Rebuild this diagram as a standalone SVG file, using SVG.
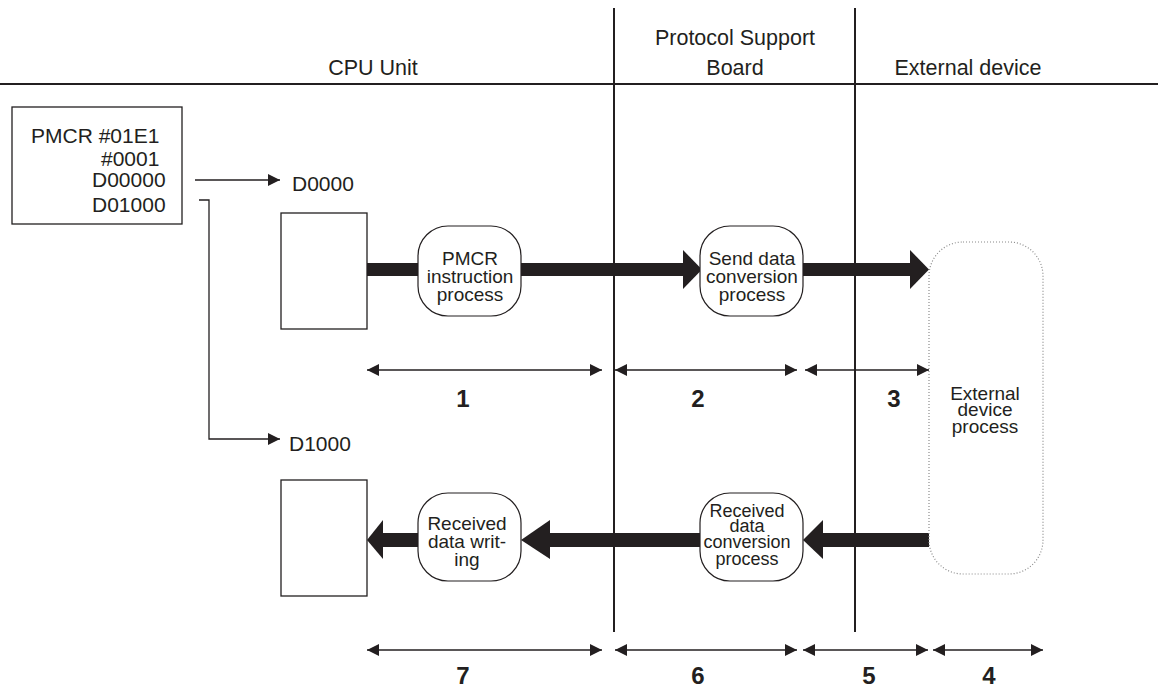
<svg xmlns="http://www.w3.org/2000/svg" width="1158" height="688" viewBox="0 0 1158 688">
<defs>
<marker id="ah" viewBox="0 0 12 12" refX="12" refY="6" markerWidth="12" markerHeight="12" markerUnits="userSpaceOnUse" orient="auto-start-reverse">
<path d="M0,0 L12,6 L0,12 z" fill="#231f20"/>
</marker>
<style>
text{font-family:"Liberation Sans",Arial,sans-serif;fill:#231f20}
.hd{font-size:21.5px}
.t{font-size:21px}
.n{font-size:19px;text-anchor:middle}
.ns{font-size:18px;text-anchor:middle}
.num{font-size:24px;font-weight:bold;text-anchor:middle}
.frame{stroke:#231f20;stroke-width:2;fill:none}
.box{stroke:#231f20;stroke-width:1.3;fill:#fff}
.node{stroke:#231f20;stroke-width:1.2;fill:#fff}
.thin{stroke:#231f20;stroke-width:1.3;fill:none}
.dim{stroke:#231f20;stroke-width:1.3;fill:none;marker-start:url(#ah);marker-end:url(#ah)}
.thick{fill:#231f20}
</style>
</defs>
<rect width="1158" height="688" fill="#fff"/>

<g id="frame">
<line class="frame" x1="0" y1="84" x2="1158" y2="84"/>
<line class="frame" x1="614" y1="8" x2="614" y2="632"/>
<line class="frame" x1="855" y1="8" x2="855" y2="632"/>
<text class="hd" x="373" y="75" text-anchor="middle">CPU Unit</text>
<text class="hd" x="735" y="45" text-anchor="middle">Protocol Support</text>
<text class="hd" x="735" y="75" text-anchor="middle">Board</text>
<text class="hd" x="968" y="75" text-anchor="middle">External device</text>
</g>

<g id="connectors">
<line class="thin" x1="195" y1="180" x2="280" y2="180" marker-end="url(#ah)"/>
<polyline class="thin" points="199,200 209,200 209,439 280,439" marker-end="url(#ah)"/>
<!-- upper thick arrows -->
<rect class="thick" x="367" y="263" width="318" height="13"/>
<polygon class="thick" points="683,250 702,269.5 683,289"/>
<rect class="thick" x="803" y="263" width="109" height="13"/>
<polygon class="thick" points="910,250 929,269.5 910,289"/>
<!-- lower thick arrows -->
<rect class="thick" x="821" y="533" width="108" height="14"/>
<polygon class="thick" points="823,520 803,540 823,559"/>
<rect class="thick" x="548" y="533" width="152" height="14"/>
<polygon class="thick" points="550,520 521,540 550,559"/>
<rect class="thick" x="381" y="533" width="37" height="14"/>
<polygon class="thick" points="383,520 367,540 383,559"/>
<!-- dimension arrows -->
<line class="dim" x1="367" y1="370" x2="602" y2="370"/>
<line class="dim" x1="615" y1="370" x2="797" y2="370"/>
<line class="dim" x1="805" y1="370" x2="929" y2="370"/>
<line class="dim" x1="367" y1="650" x2="602" y2="650"/>
<line class="dim" x1="615" y1="650" x2="797" y2="650"/>
<line class="dim" x1="803" y1="650" x2="928" y2="650"/>
<line class="dim" x1="933" y1="650" x2="1043" y2="650"/>
</g>

<g id="labels">
<text class="num" x="463" y="407">1</text>
<text class="num" x="698" y="407">2</text>
<text class="num" x="894" y="407">3</text>
<text class="num" x="463" y="684">7</text>
<text class="num" x="698" y="684">6</text>
<text class="num" x="869" y="684">5</text>
<text class="num" x="989" y="684">4</text>
</g>

<g id="pmcr-box">
<rect class="box" x="12" y="107" width="170" height="117"/>
<text class="t" x="31" y="143">PMCR #01E1</text>
<text class="t" x="101" y="166">#0001</text>
<text class="t" x="92" y="187">D00000</text>
<text class="t" x="92" y="212">D01000</text>
</g>

<g id="d0000">
<text class="t" x="292" y="191">D0000</text>
<rect class="box" x="281" y="213" width="86" height="116"/>
</g>

<g id="d1000">
<text class="t" x="289" y="451">D1000</text>
<rect class="box" x="281" y="480" width="86" height="116"/>
</g>

<g id="pmcr-process">
<rect class="node" x="418" y="226" width="103" height="90" rx="30" ry="30"/>
<text class="n" x="470" y="265">PMCR</text>
<text class="n" x="470" y="283">instruction</text>
<text class="n" x="470" y="301">process</text>
</g>

<g id="send-conversion">
<rect class="node" x="700" y="226" width="103" height="90" rx="30" ry="30"/>
<text class="n" x="752" y="265">Send data</text>
<text class="n" x="752" y="283">conversion</text>
<text class="n" x="752" y="301">process</text>
</g>

<g id="received-writing">
<rect class="node" x="418" y="493" width="103" height="88" rx="30" ry="30"/>
<text class="n" x="467" y="530">Received</text>
<text class="n" x="467" y="548">data writ-</text>
<text class="n" x="467" y="566">ing</text>
</g>

<g id="received-conversion">
<rect class="node" x="700" y="493" width="103" height="88" rx="30" ry="30"/>
<text class="ns" x="747" y="517">Received</text>
<text class="ns" x="747" y="532">data</text>
<text class="ns" x="747" y="548">conversion</text>
<text class="ns" x="747" y="565">process</text>
</g>

<g id="external-process">
<rect x="929" y="242" width="114" height="332" rx="34" ry="34" fill="#fff" stroke="#8a8a8a" stroke-width="1.2" stroke-dasharray="1 2"/>
<text class="n" x="985" y="400">External</text>
<text class="n" x="985" y="416">device</text>
<text class="n" x="985" y="433">process</text>
</g>
</svg>
